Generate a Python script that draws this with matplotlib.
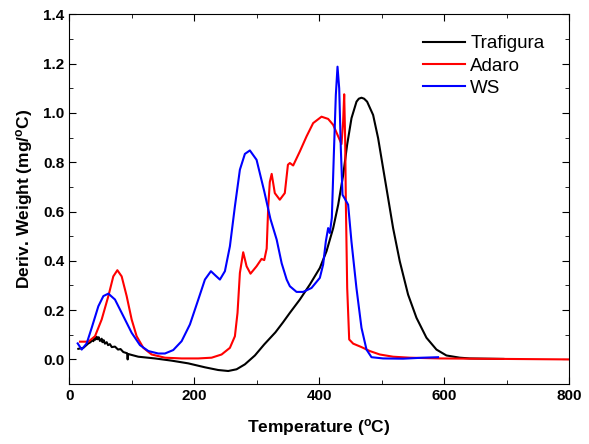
import numpy as np
import matplotlib
matplotlib.use('Agg')
import matplotlib.pyplot as plt
from matplotlib.ticker import MultipleLocator

plt.rcParams['font.family'] = ['Liberation Sans', 'DejaVu Sans']
plt.rcParams['mathtext.default'] = 'regular'

# Trafigura
t_traf = [14.4, 22.4, 30.4, 34, 36, 38.4, 40, 41.5, 43.8, 45, 47, 49, 51.8, 53, 55, 57, 59.8, 62, 65, 68,
          73.1, 78, 82, 86.4, 92.5, 93.4, 94.3, 100, 110.4, 137.1, 163.8, 190.4, 217.1, 238.4, 254.4,
          267.8, 281.1, 297.1, 312.1, 330, 342, 353.1, 369.1, 385.1, 401.1, 411.8, 422.5, 430.5, 438.5,
          444.8, 451.8, 459.8, 463.5, 467.8, 472, 476.8, 486.4, 494.4, 502.4, 510.4, 518.4, 529.1, 542.4,
          555.8, 571.8, 587.8, 603.8, 625.1, 641.1, 695]
y_traf = [0.043, 0.047, 0.065, 0.07, 0.078, 0.074, 0.088, 0.08, 0.092, 0.082, 0.09, 0.075, 0.084, 0.07,
          0.078, 0.064, 0.07, 0.058, 0.062, 0.05, 0.052, 0.04, 0.042, 0.03, 0.025, 0.0, 0.022, 0.018,
          0.011, 0.004, -0.005, -0.016, -0.032, -0.043, -0.047,
          -0.04, -0.02, 0.016, 0.061, 0.11, 0.15, 0.189, 0.243, 0.304, 0.371, 0.439, 0.533, 0.628, 0.749,
          0.871, 0.979, 1.046, 1.058, 1.062, 1.058, 1.046, 0.992, 0.898, 0.776, 0.655, 0.533, 0.398,
          0.263, 0.169, 0.088, 0.04, 0.016, 0.007, 0.004, 0.002]

# Adaro
t_adaro = [17.1, 30.5, 41.1, 51.8, 62.5, 70.4, 76.9, 83.8, 91.8, 99.8, 107.8, 118.5, 131.8, 153.1, 179.8,
           206.5, 227.8, 243.8, 257.1, 265.1, 269.3, 273.1, 278.4, 283.8, 290.1, 299.8, 307.8, 312.1,
           316, 318.5, 321, 324, 329, 337, 345, 350, 353.1, 358.4, 369.1, 379.8, 390.4, 403.8, 414.4,
           422.4, 430.5, 435.8, 438.4, 440.1, 441.7, 442.8, 444.9, 448.1, 454.5, 467.8, 481.1, 497.1,
           518.4, 545.1, 593.1, 800]
y_adaro = [0.072, 0.072, 0.094, 0.162, 0.257, 0.337, 0.362, 0.337, 0.257, 0.162, 0.094, 0.047, 0.02,
           0.007, 0.004, 0.004, 0.007, 0.02, 0.047, 0.094, 0.189, 0.351, 0.435, 0.378, 0.348, 0.378,
           0.408, 0.403, 0.45, 0.621, 0.72, 0.753, 0.675, 0.648, 0.675, 0.79, 0.797, 0.787, 0.844,
           0.905, 0.959, 0.985, 0.976, 0.952, 0.905, 0.874, 0.965, 1.076, 0.884, 0.628, 0.29, 0.081,
           0.064, 0.05, 0.034, 0.02, 0.011, 0.007, 0.004, 0.0]

# WS
t_ws = [13.4, 19.8, 27.8, 35.8, 46.5, 54.5, 62.5, 73.1, 86.4, 99.8, 113.1, 126.5, 142.4, 153.1, 166.4,
        179.8, 193.1, 206.5, 217.1, 226.7, 234.2, 241.1, 249.1, 257.1, 265.1, 273.1, 281.1, 289.1,
        299.8, 312.1, 322, 332, 340, 348, 353.1, 363.8, 374.4, 387.8, 401.1, 406.4, 410.7, 414.4,
        417.1, 420.3, 423.5, 426.7, 429.4, 432.1, 434.7, 437.4, 441.1, 446.4, 451.7, 459.7, 467.8,
        475.8, 483.8, 502.4, 534.4, 566.4, 590.4]
y_ws = [0.065, 0.04, 0.065, 0.128, 0.216, 0.257, 0.267, 0.243, 0.176, 0.108, 0.058, 0.034, 0.024,
        0.024, 0.038, 0.074, 0.142, 0.243, 0.324, 0.358, 0.34, 0.324, 0.358, 0.459, 0.621, 0.77, 0.834,
        0.848, 0.81, 0.682, 0.57, 0.486, 0.39, 0.324, 0.297, 0.274, 0.274, 0.29, 0.331, 0.385, 0.479,
        0.533, 0.513, 0.574, 0.83, 1.073, 1.188, 1.1, 0.857, 0.668, 0.652, 0.628, 0.479, 0.29, 0.128,
        0.04, 0.009, 0.004, 0.003, 0.007, 0.009]

fig = plt.figure(figsize=(5.89, 4.44), dpi=100)
ax = fig.add_axes([0.1177, 0.135, 0.8483, 0.8325])

ax.plot(t_traf, y_traf, color='black', lw=1.5, label='Trafigura')
ax.plot(t_adaro, y_adaro, color='red', lw=1.5, label='Adaro')
ax.plot(t_ws, y_ws, color='blue', lw=1.5, label='WS')

ax.set_xlim(0, 800)
ax.set_ylim(-0.1, 1.4)
ax.xaxis.set_minor_locator(MultipleLocator(100))
ax.yaxis.set_minor_locator(MultipleLocator(0.1))
ax.tick_params(which='both', direction='in', top=True, right=True)
ax.tick_params(which='major', length=5)
ax.tick_params(which='minor', length=3)
ax.set_xticks([0, 200, 400, 600, 800])
ax.set_xticklabels(['0', '200', '400', '600', '800'], fontweight='bold', fontsize=11)
yt = np.arange(0, 1.41, 0.2)
ax.set_yticks(yt)
ax.set_yticklabels(['%.1f' % v for v in yt], fontweight='bold', fontsize=11)

ax.set_xlabel('Temperature ($^o$C)', fontsize=12.5, fontweight='bold', labelpad=10)
ax.set_ylabel('Deriv. Weight (mg/$^o$C)', fontsize=12.5, fontweight='bold', labelpad=6)

ax.legend(loc='upper right', frameon=False, fontsize=13.5, handlelength=2.2,
          handletextpad=0.3, labelspacing=0.28, bbox_to_anchor=(0.985, 0.99))

fig.savefig('out.png', dpi=100)
